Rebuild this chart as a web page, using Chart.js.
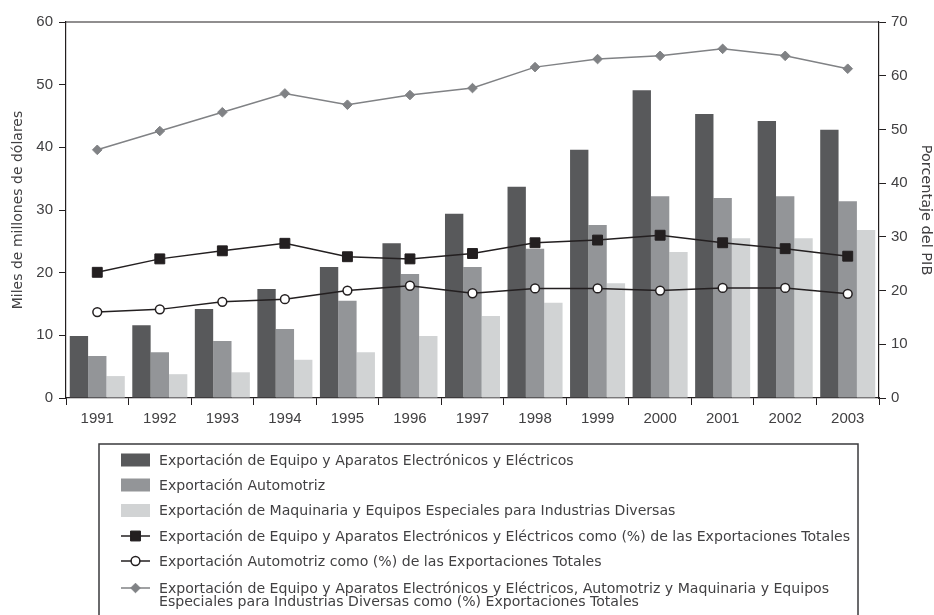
<!DOCTYPE html>
<html>
<head>
<meta charset="utf-8">
<script src="https://cdn.jsdelivr.net/npm/chart.js@4"></script>
<style>
  html, body { margin: 0; padding: 0; background: #fff; }
  #wrap { width: 934px; height: 615px; }
</style>
</head>
<body>
<div id="wrap"><canvas id="chart" width="934" height="615"></canvas></div>
<script>
// years on the x axis
const years = ['1991', '1992', '1993', '1994', '1995', '1996', '1997', '1998', '1999', '2000', '2001', '2002', '2003'];

// bars, left axis (miles de millones de dólares)
const electronicos = [9.9, 11.6, 14.2, 17.4, 20.9, 24.7, 29.4, 33.7, 39.6, 49.1, 45.3, 44.2, 42.8];
const automotriz = [6.7, 7.3, 9.1, 11.0, 15.5, 19.8, 20.9, 23.8, 27.6, 32.2, 31.9, 32.2, 31.4];
const maquinaria = [3.5, 3.8, 4.1, 6.1, 7.3, 9.9, 13.1, 15.2, 18.3, 23.3, 25.5, 25.5, 26.8];

// lines, right axis (porcentaje)
const electronicosPct = [23.4, 25.9, 27.4, 28.8, 26.3, 25.9, 26.9, 28.9, 29.4, 30.3, 28.9, 27.8, 26.4];
const automotrizPct = [16.0, 16.5, 17.9, 18.4, 20.0, 20.9, 19.5, 20.4, 20.4, 20.0, 20.5, 20.5, 19.4];
const totalPct = [46.2, 49.7, 53.2, 56.7, 54.6, 56.4, 57.7, 61.6, 63.1, 63.7, 65.0, 63.7, 61.3];

const leftTicks = [0, 10, 20, 30, 40, 50, 60];
const rightTicks = [0, 10, 20, 30, 40, 50, 60, 70];

const labels = [
  ['Exportación de Equipo y Aparatos Electrónicos y Eléctricos'],
  ['Exportación Automotriz'],
  ['Exportación de Maquinaria y Equipos Especiales para Industrias Diversas'],
  ['Exportación de Equipo y Aparatos Electrónicos y Eléctricos como (%) de las Exportaciones Totales'],
  ['Exportación Automotriz como (%) de las Exportaciones Totales'],
  ['Exportación de Equipo y Aparatos Electrónicos y Eléctricos, Automotriz y Maquinaria y Equipos',
   'Especiales para Industrias Diversas como (%) Exportaciones Totales'],
];

const ink = '#231f20';
const textColor = '#414042';
const wideFont = "'DejaVu Sans', 'Liberation Sans', sans-serif";

Chart.defaults.font.family = "'Liberation Sans', Arial, sans-serif";
Chart.defaults.font.size = 15;
Chart.defaults.color = textColor;

// top edge of the plot box
const frameTop = {
  id: 'frameTop',
  afterDatasetsDraw(chart) {
    const { ctx, chartArea } = chart;
    ctx.save();
    ctx.strokeStyle = ink;
    ctx.lineWidth = 1.2;
    ctx.beginPath();
    ctx.moveTo(chartArea.left, chartArea.top);
    ctx.lineTo(chartArea.right, chartArea.top);
    ctx.stroke();
    ctx.restore();
  },
};

// boxed legend under the chart
const boxLegend = {
  id: 'boxLegend',
  afterDraw(chart) {
    const { ctx } = chart;
    const rows = [460, 485, 510.5, 536, 561, 588];
    const sx = 121, sw = 29, tx = 159;
    ctx.save();
    ctx.strokeStyle = '#3a3a3c';
    ctx.lineWidth = 1.5;
    ctx.strokeRect(99, 444, 759, 200);
    ctx.font = '14.1px ' + wideFont;
    ctx.textBaseline = 'middle';
    chart.data.datasets.forEach((ds, i) => {
      const y = rows[i];
      if (ds.type === 'bar') {
        ctx.fillStyle = ds.backgroundColor;
        ctx.fillRect(sx, y - 6.5, sw, 13);
      } else {
        ctx.strokeStyle = ds.borderColor;
        ctx.lineWidth = 1.5;
        ctx.beginPath();
        ctx.moveTo(sx, y);
        ctx.lineTo(sx + sw, y);
        ctx.stroke();
        ctx.fillStyle = ds.pointBackgroundColor;
        ctx.strokeStyle = ds.pointBorderColor;
        ctx.lineWidth = ds.pointBorderWidth;
        Chart.helpers.drawPoint(ctx, {
          pointStyle: ds.pointStyle,
          radius: ds.pointRadius,
          borderWidth: ds.pointBorderWidth,
        }, sx + sw / 2, y);
      }
      ctx.fillStyle = textColor;
      labels[i].forEach((line, k) => {
        ctx.fillText(line, tx, y + 1 + k * 13);
      });
    });
    ctx.restore();
  },
};

new Chart(document.getElementById('chart'), {
  data: {
    labels: years,
    datasets: [
      { type: 'bar', data: electronicos, backgroundColor: '#58595b', yAxisID: 'y', order: 2,
        categoryPercentage: 0.88, barPercentage: 1.0 },
      { type: 'bar', data: automotriz, backgroundColor: '#939598', yAxisID: 'y', order: 2,
        categoryPercentage: 0.88, barPercentage: 1.0 },
      { type: 'bar', data: maquinaria, backgroundColor: '#d1d3d4', yAxisID: 'y', order: 2,
        categoryPercentage: 0.88, barPercentage: 1.0 },
      { type: 'line', data: electronicosPct, yAxisID: 'y1', order: 1,
        borderColor: ink, borderWidth: 1.5, pointStyle: 'rect', pointRadius: 7,
        pointBackgroundColor: ink, pointBorderColor: ink, pointBorderWidth: 1 },
      { type: 'line', data: automotrizPct, yAxisID: 'y1', order: 0,
        borderColor: ink, borderWidth: 1.5, pointStyle: 'circle', pointRadius: 4.4,
        pointBackgroundColor: '#ffffff', pointBorderColor: ink, pointBorderWidth: 1.5 },
      { type: 'line', data: totalPct, yAxisID: 'y1', order: 1,
        borderColor: '#808285', borderWidth: 1.5, pointStyle: 'rectRot', pointRadius: 4.8,
        pointBackgroundColor: '#808285', pointBorderColor: '#808285', pointBorderWidth: 1 },
    ],
  },
  options: {
    responsive: false,
    animation: false,
    layout: { padding: { top: 22, left: 0, right: 0, bottom: 187 } },
    plugins: {
      legend: { display: false },
      tooltip: { enabled: false },
    },
    scales: {
      x: {
        grid: { offset: true, drawOnChartArea: false, drawTicks: true, tickLength: 7, color: ink },
        border: { color: ink, width: 1.2 },
        ticks: { padding: 5, maxRotation: 0, color: textColor },
        afterFit(scale) { scale.height = 30; },
      },
      y: {
        position: 'left',
        min: 0,
        max: 60,
        afterBuildTicks(scale) { scale.ticks = leftTicks.map((v) => ({ value: v })); },
        grid: { drawOnChartArea: false, tickLength: 7, color: ink },
        border: { color: ink, width: 1.2 },
        ticks: { padding: 6, color: textColor },
        title: { display: true, text: 'Miles de millones de dólares', color: textColor,
          font: { family: wideFont, size: 14 }, padding: { top: 10, bottom: 0 } },
        afterFit(scale) { scale.width = 66; },
      },
      y1: {
        position: 'right',
        min: 0,
        max: 70,
        afterBuildTicks(scale) { scale.ticks = rightTicks.map((v) => ({ value: v })); },
        grid: { drawOnChartArea: false, tickLength: 7, color: ink },
        border: { color: ink, width: 1.2 },
        ticks: { padding: 5, color: textColor },
        title: { display: true, text: 'Porcentaje del PIB', color: textColor,
          font: { family: wideFont, size: 14.5 }, padding: 0 },
        afterFit(scale) { scale.width = 55; },
      },
    },
  },
  plugins: [frameTop, boxLegend],
});
</script>
</body>
</html>
